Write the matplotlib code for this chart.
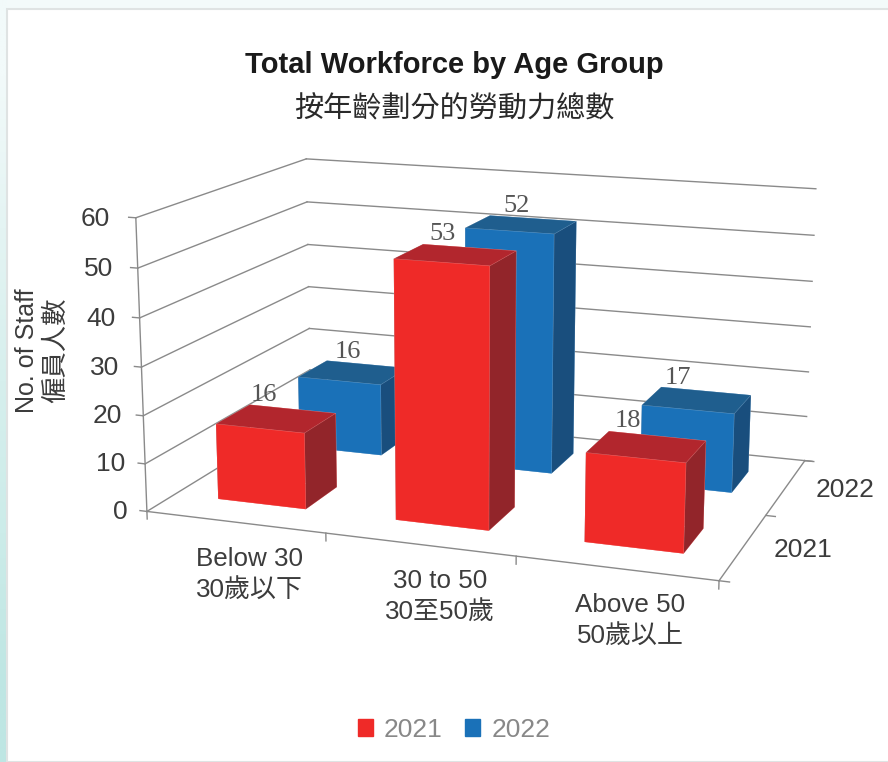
import numpy as np
import matplotlib
matplotlib.use('Agg')
import matplotlib.pyplot as plt
from matplotlib.patches import Patch, Rectangle

plt.rcParams['font.family'] = ['Liberation Sans', 'Noto Sans CJK TC', 'DejaVu Sans']

categories = ['Below 30\n30歲以下', '30 to 50\n30至50歲', 'Above 50\n50歲以上']
years = ['2021', '2022']
values_2021 = [16, 53, 18]
values_2022 = [16, 52, 17]
z_ticks = [0, 10, 20, 30, 40, 50, 60]

red = ['#EF2A28', '#B2262D', '#EF2A28', '#EF2A28', '#92252A', '#92252A']
blue = ['#1A71B8', '#1F5E8E', '#1A71B8', '#1A71B8', '#194E7D', '#194E7D']
page = np.array([[[242, 250, 250]], [[228, 244, 243]], [[214, 239, 237]], [[204, 236, 233]], [[190, 230, 227]]]) / 255
grid_col = '#8A8A8A'
text_col = '#3C3C3C'
W, H = 888, 762


def fx(px):
    return px / W


def fy(py):
    return 1 - py / H


fig = plt.figure(figsize=(W / 100, H / 100), dpi=100, facecolor='#F3FAFA')

# page behind the white panel
bg = fig.add_axes([0, 0, 7 / W, 1], zorder=-2)
bg.imshow(page, aspect='auto', interpolation='bilinear')
bg.axis('off')
fig.patches.append(Rectangle((fx(7), 0), 1, fy(9), transform=fig.transFigure, facecolor='white',
                             edgecolor='#DFE3E3', lw=1.5, zorder=-1))

# position worked out so that the 3d box lands on the reference frame
ax = fig.add_axes([116 / W, 42.3 / H, 727.4 / W, 727.4 / H], projection='3d', computed_zorder=False)
ax.patch.set_alpha(0)
ax.set_axis_off()
ax.set_xlim(0, 3)
ax.set_ylim(0, 2)
ax.set_zlim(0, 60)
ax.view_init(elev=13.8269, azim=-70.5728, roll=-0.1779)
ax.set_proj_type('persp', focal_length=0.5346)
ax.set_box_aspect((1.9633, 1.3378, 1))

line = dict(color=grid_col, lw=1.0, zorder=1)
for v in z_ticks:
    ax.plot([0, 0], [0, 2], [v, v], **line)
    ax.plot([0, 3], [2, 2], [v, v], **line)
    ax.plot([-0.04, 0], [0, 0], [v, v], **line)
    ax.text(-(0.11 + v * 0.0006), 0, v - 0.6, str(v), ha='right', va='center', fontsize=19, color=text_col)
ax.plot([0, 0], [0, 0], [0, 60], **line)
ax.plot([0, 3], [0, 0], [0, 0], **line)
ax.plot([3, 3], [0, 2], [0, 0], **line)
ax.plot([3, 3.04], [2, 2], [0, 0], **line)
for i in range(4):
    ax.plot([i, i], [0, 0], [-1.6, 0], **line)
for j in range(3):
    ax.plot([3, 3.05], [j, j], [0, 0], **line)

bar_w = 0.5006
bar_d = 0.3904
label_dx = [[0.083, 0.105, 0.096], [0.134, 0.156, 0.095]]
z = 5
for j, (vals, cols) in reversed(list(enumerate([(values_2021, red), (values_2022, blue)]))):
    for i, v in enumerate(vals):
        left = i + 0.5 - bar_w / 2
        front = j + 0.5 - bar_d / 2
        ax.bar3d(left, front, 0, bar_w, bar_d, v, color=cols, shade=False,
                 edgecolor=(1, 1, 1, 0.2), linewidth=0.4, zorder=z)
        ax.text(left + label_dx[j][i], front + bar_d, v + 2.4, str(v), ha='center', va='center',
                fontsize=19, family='Liberation Serif', color='#555555', zorder=20)
        z += 1

fig.text(fx(454.5), fy(65), 'Total Workforce by Age Group', ha='center', va='center', fontsize=21,
         fontweight='bold', color='#1A1A1A')
fig.text(fx(454.5), fy(109), '按年齡劃分的勞動力總數', ha='center', va='center', fontsize=21, color='#2A2A2A')

fig.text(fx(27), fy(351), 'No. of Staff', rotation=90, ha='center', va='center', fontsize=18, color=text_col)
fig.text(fx(56), fy(350), '僱員人數', rotation=90, ha='center', va='center', fontsize=19, color=text_col)

cat_x = [249, 440, 630]
cat_y = [575, 597, 621]
for c, px, py in zip(categories, cat_x, cat_y):
    fig.text(fx(px), fy(py), c, ha='center', va='center', fontsize=18.7, color=text_col, linespacing=1.4)
fig.text(fx(803), fy(550), years[0], ha='center', va='center', fontsize=19, color=text_col)
fig.text(fx(845), fy(490), years[1], ha='center', va='center', fontsize=19, color=text_col)

handles = [Patch(color=red[0], label=years[0]), Patch(color=blue[0], label=years[1])]
fig.legend(handles=handles, loc='center', bbox_to_anchor=(fx(454), fy(730)), ncol=2, frameon=False, fontsize=19,
           labelcolor='#888888', handlelength=0.58, handleheight=0.58, handletextpad=0.42, columnspacing=0.85)

fig.savefig('out.png', dpi=100, facecolor=fig.get_facecolor())
